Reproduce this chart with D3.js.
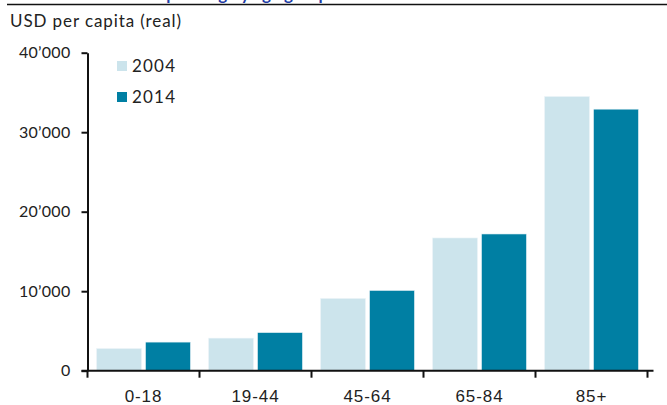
<!DOCTYPE html>
<html>
<head>
<meta charset="utf-8">
<script src="https://cdnjs.cloudflare.com/ajax/libs/d3/7.8.5/d3.min.js"></script>
<style>
  html, body { margin: 0; padding: 0; background: #fff; }
  svg { display: block; font-family: Lato, "Open Sans", sans-serif; }
</style>
</head>
<body>
<svg id="chart" width="667" height="405"></svg>
<script>
// Health spending per capita by age group, USD (real)
const ageGroups = ["0-18", "19-44", "45-64", "65-84", "85+"];
const seriesNames = ["2004", "2014"];
const values2004 = [2800, 4100, 9100, 16700, 34500];
const values2014 = [3600, 4800, 10100, 17200, 32900];
const yTicks = [0, 10000, 20000, 30000, 40000];
const titleText = "Health spending by age group";
const unitLabel = "USD per capita (real)";

const colors = { "2004": "#cce4ec", "2014": "#007fa3" };
const seriesValues = { "2004": values2004, "2014": values2014 };

const svg = d3.select("#chart");
const margin = { left: 87.5, right: 19.5, top: 52.7, bottom: 34.3 };
const W = 667, H = 405;
const innerW = 560, innerH = H - margin.top - margin.bottom;

// Header: title (runs off the top edge) and rule
svg.append("text")
  .attr("x", 104).attr("y", 0)
  .attr("font-size", 17).attr("font-weight", "bold")
  .attr("fill", "#1f3ca6")
  .text(titleText);
svg.append("line")
  .attr("x1", 7).attr("x2", W).attr("y1", 4.5).attr("y2", 4.5)
  .attr("stroke", "#111").attr("stroke-width", 1.5);

svg.append("text")
  .attr("x", 10).attr("y", 27)
  .attr("font-size", 17).attr("letter-spacing", 0.9).attr("fill", "#222")
  .text(unitLabel);

const g = svg.append("g").attr("transform", `translate(${margin.left},${margin.top})`);

const x0 = d3.scaleBand().domain(ageGroups).range([0, innerW]).padding(0);
const x1 = d3.scaleBand().domain(seriesNames).range([9, 103]).paddingInner(0.08).paddingOuter(0);
const y = d3.scaleLinear().domain([0, 40000]).range([innerH, 0]);

const fmt = v => v === 0 ? "0" : d3.format(",")(v).replace(/,/g, "\u2019");

// Bars
const groups = g.selectAll("g.grp").data(ageGroups).join("g")
  .attr("class", "grp")
  .attr("transform", d => `translate(${x0(d)},0)`);
groups.selectAll("rect")
  .data((d, i) => seriesNames.map(s => ({ s, v: seriesValues[s][i] })))
  .join("rect")
  .attr("x", d => x1(d.s))
  .attr("width", x1.bandwidth())
  .attr("y", d => y(d.v))
  .attr("height", d => innerH - y(d.v))
  .attr("fill", d => colors[d.s])
  .attr("stroke", "#eef6f9").attr("stroke-width", 0.6);

// Y axis
const yAxis = g.append("g")
  .call(d3.axisLeft(y).tickValues(yTicks).tickFormat(fmt).tickSize(6).tickSizeOuter(0));
yAxis.select(".domain").attr("stroke", "#111").attr("stroke-width", 2);
yAxis.selectAll(".tick line").attr("stroke", "#111").attr("stroke-width", 2);
yAxis.selectAll(".tick text").attr("font-size", 16).attr("fill", "#222")
  .attr("letter-spacing", 0.3)
  .attr("x", -17).attr("font-family", "Lato, sans-serif");

// X axis
const xAxis = g.append("g").attr("transform", `translate(0,${innerH})`)
  .call(d3.axisBottom(x0).tickSize(0).tickSizeOuter(0));
xAxis.select(".domain").attr("stroke", "#111").attr("stroke-width", 2)
  .attr("d", `M-6,0H${innerW + 6}`);
xAxis.selectAll(".tick text").attr("font-size", 17).attr("letter-spacing", 0.9)
  .attr("fill", "#222").attr("dy", 0).attr("y", 31);
// group boundary ticks
const bounds = ageGroups.map(d => x0(d)).concat([innerW]);
xAxis.selectAll("line.sep").data(bounds).join("line")
  .attr("class", "sep")
  .attr("x1", d => d).attr("x2", d => d)
  .attr("y1", 0).attr("y2", 7)
  .attr("stroke", "#111").attr("stroke-width", 2);

// Legend
const legend = svg.append("g").attr("transform", "translate(117,61)");
seriesNames.forEach((s, i) => {
  const row = legend.append("g").attr("transform", `translate(0,${i * 31})`);
  row.append("rect").attr("width", 10).attr("height", 10).attr("fill", colors[s]);
  row.append("text").attr("x", 15).attr("y", 10.5)
    .attr("font-size", 17).attr("letter-spacing", 1.2).attr("fill", "#222").text(s);
});
</script>
</body>
</html>
